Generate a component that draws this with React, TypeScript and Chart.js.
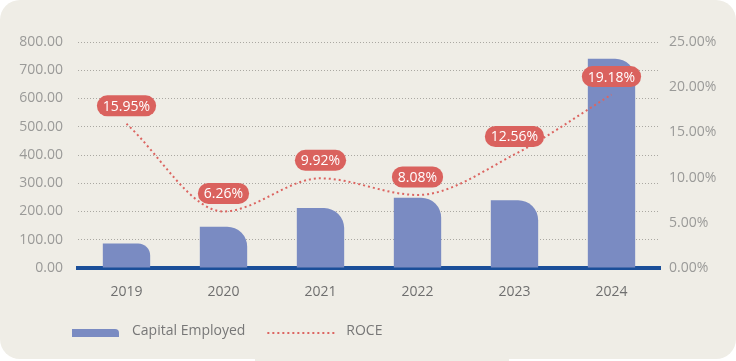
import React, { useEffect, useRef } from "react";
import { Chart, registerables } from "chart.js";

Chart.register(...registerables);

const categories = ["2019", "2020", "2021", "2022", "2023", "2024"];
const capitalEmployed = [87, 146, 212, 249, 240, 741];
const roce = [15.95, 6.26, 9.92, 8.08, 12.56, 19.18];
const seriesNames = ["Capital Employed", "ROCE"];

const FONT = "'Open Sans', 'Noto Sans', sans-serif";
const BAR_COLOR = "#7a8bc2";
const LINE_COLOR = "#dc6561";
const PILL_COLOR = "#da625e";

const pillLabels = {
  id: "pillLabels",
  afterDatasetsDraw(chart: any) {
    const meta = chart.getDatasetMeta(1);
    const ctx = chart.ctx;
    ctx.save();
    ctx.font = `14px ${FONT}`;
    meta.data.forEach((pt: any, i: number) => {
      const text = roce[i].toFixed(2) + "%";
      const w = ctx.measureText(text).width + 12;
      const h = 21;
      const cx = pt.x;
      const cy = pt.y - 18;
      ctx.beginPath();
      ctx.roundRect(cx - w / 2, cy - h / 2, w, h, 10.5);
      ctx.fillStyle = PILL_COLOR;
      ctx.fill();
      ctx.fillStyle = "#ffffff";
      ctx.textAlign = "center";
      ctx.textBaseline = "middle";
      ctx.fillText(text, cx, cy + 1);
    });
    ctx.restore();
  },
};

const customLegend = {
  id: "customLegend",
  afterDraw(chart: any) {
    const ctx = chart.ctx;
    const area = chart.chartArea;
    const y = area.bottom + 64;
    let x = area.left - 6;
    ctx.save();
    ctx.font = `14px ${FONT}`;
    ctx.textBaseline = "middle";
    ctx.textAlign = "left";
    ctx.beginPath();
    ctx.roundRect(x, y - 3, 47, 8, [0, 4, 0, 0]);
    ctx.fillStyle = BAR_COLOR;
    ctx.fill();
    x += 47 + 13;
    ctx.fillStyle = "#777777";
    ctx.fillText(seriesNames[0], x, y - 1);
    x += ctx.measureText(seriesNames[0]).width + 22;
    ctx.beginPath();
    ctx.setLineDash([2, 3]);
    ctx.strokeStyle = LINE_COLOR;
    ctx.lineWidth = 2;
    ctx.moveTo(x, y + 1);
    ctx.lineTo(x + 67, y + 1);
    ctx.stroke();
    ctx.setLineDash([]);
    x += 67 + 12;
    ctx.fillStyle = "#777777";
    ctx.fillText(seriesNames[1], x, y - 1);
    ctx.restore();
  },
};

export default function App() {
  const canvasRef = useRef<HTMLCanvasElement | null>(null);

  useEffect(() => {
    document.body.style.margin = "0";
    const canvas = canvasRef.current;
    if (!canvas) return;
    const chart = new Chart(canvas, {
      type: "bar",
      data: {
        labels: categories,
        datasets: [
          {
            type: "bar",
            label: seriesNames[0],
            data: capitalEmployed,
            backgroundColor: BAR_COLOR,
            borderRadius: { topLeft: 0, topRight: 20, bottomLeft: 0, bottomRight: 0 },
            borderSkipped: false,
            barPercentage: 0.488,
            categoryPercentage: 1,
            yAxisID: "y",
            order: 2,
          },
          {
            type: "line",
            label: seriesNames[1],
            data: roce,
            borderColor: LINE_COLOR,
            borderWidth: 2,
            borderDash: [2, 3],
            pointRadius: 0,
            cubicInterpolationMode: "monotone",
            fill: false,
            yAxisID: "y1",
            order: 1,
          },
        ],
      },
      options: {
        animation: false,
        responsive: false,
        maintainAspectRatio: false,
        layout: { padding: { top: 42, bottom: 63, left: 0, right: 0 } },
        plugins: {
          legend: { display: false },
          tooltip: { enabled: false },
        },
        scales: {
          x: {
            grid: { display: false, drawTicks: false },
            border: { display: true, color: "#1b4f99", width: 4 },
            ticks: {
              color: "#6f6f6f",
              font: { family: FONT, size: 14 },
              padding: 16,
            },
            afterFit(scale: any) {
              scale.height = 30;
            },
          },
          y: {
            position: "left",
            min: 0,
            max: 800,
            grid: { color: "#aaa8a2", lineWidth: 1, drawTicks: false },
            border: { display: false, dash: [1, 2] },
            ticks: {
              stepSize: 100,
              color: "#9a9a98",
              font: { family: FONT, size: 14 },
              padding: 15,
              callback: (v: any) => Number(v).toFixed(2),
            },
            afterFit(scale: any) {
              scale.width = 78;
            },
          },
          y1: {
            position: "right",
            min: 0,
            max: 25,
            grid: { display: false, drawTicks: false },
            border: { display: false },
            ticks: {
              stepSize: 5,
              color: "#9a9a98",
              font: { family: FONT, size: 14 },
              padding: 9,
              callback: (v: any) => Number(v).toFixed(2) + "%",
            },
            afterFit(scale: any) {
              scale.width = 76;
            },
          },
        },
      },
      plugins: [pillLabels, customLegend],
    });
    return () => chart.destroy();
  }, []);

  return (
    <div
      style={{
        position: "fixed",
        left: 0,
        top: 0,
        width: 736,
        height: 359,
        background: "#efede6",
        borderRadius: 20,
      }}
    >
      <canvas ref={canvasRef} width={736} height={361} style={{ display: "block" }} />
    </div>
  );
}
